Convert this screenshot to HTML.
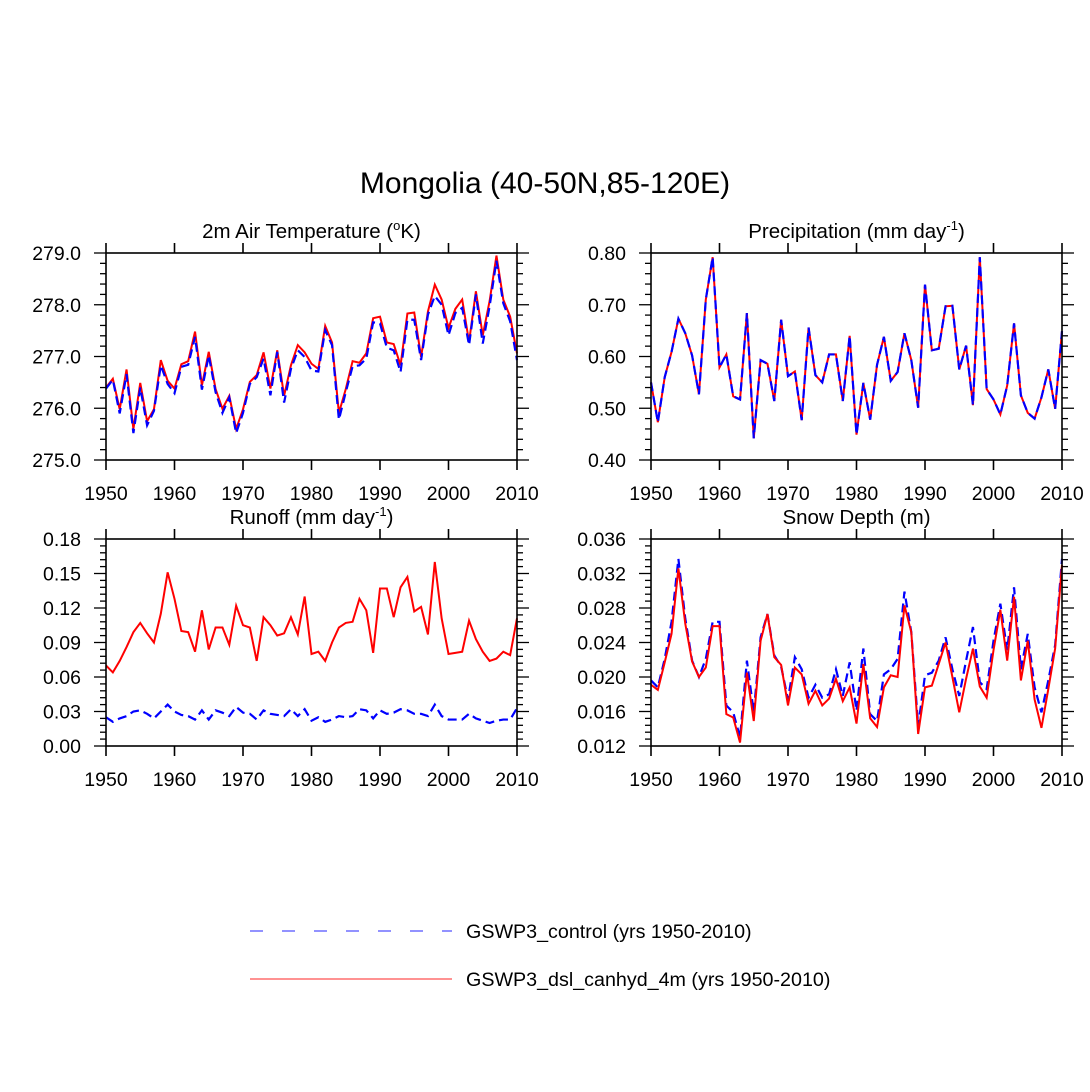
<!DOCTYPE html>
<html><head><meta charset="utf-8"><style>
body{margin:0;background:#fff}
svg{display:block;font-family:"Liberation Sans",Arial,sans-serif}
</style></head><body>
<svg id="chart" width="1090" height="1092" viewBox="0 0 1090 1092">
<rect width="1090" height="1092" fill="#fff"/>
<text x="545" y="193" font-size="30" text-anchor="middle">Mongolia (40-50N,85-120E)</text>
<g>
<line x1="250" y1="931" x2="452" y2="931" stroke="#6f6fff" stroke-width="1.5" stroke-dasharray="13,19"/>
<text x="466" y="938" font-size="19.7">GSWP3_control (yrs 1950-2010)</text>
<line x1="250" y1="979" x2="452" y2="979" stroke="#ff6f6f" stroke-width="1.5"/>
<text x="466" y="986" font-size="19.7">GSWP3_dsl_canhyd_4m (yrs 1950-2010)</text>
</g>
</svg>
<script>
const years = Array.from({length:61},(_, i)=>1950+i);
const xTicks = [1950,1960,1970,1980,1990,2000,2010];

const tempRed = [276.40,276.57,275.98,276.75,275.60,276.49,275.75,275.98,276.93,276.53,276.38,276.85,276.91,277.48,276.44,277.09,276.37,275.99,276.24,275.60,275.98,276.51,276.64,277.08,276.38,277.12,276.24,276.83,277.22,277.08,276.86,276.76,277.59,277.27,275.91,276.37,276.91,276.88,277.06,277.74,277.77,277.27,277.24,276.83,277.83,277.85,276.99,277.87,278.39,278.10,277.55,277.92,278.10,277.28,278.26,277.41,278.07,278.95,278.10,277.77,277.06];
const tempBlue = [276.38,276.55,275.90,276.66,275.52,276.40,275.67,275.95,276.83,276.47,276.29,276.80,276.84,277.38,276.36,277.02,276.31,275.91,276.21,275.52,275.91,276.47,276.60,276.96,276.25,277.09,276.11,276.76,277.12,276.99,276.73,276.71,277.51,277.22,275.78,276.31,276.81,276.83,276.96,277.66,277.64,277.17,277.12,276.70,277.71,277.71,276.93,277.81,278.17,278.00,277.41,277.84,277.94,277.22,278.20,277.25,277.97,278.85,278.03,277.68,276.93];
const precRed = [0.550,0.473,0.560,0.609,0.673,0.645,0.602,0.527,0.710,0.792,0.579,0.604,0.523,0.517,0.684,0.442,0.593,0.586,0.514,0.671,0.562,0.571,0.477,0.656,0.564,0.550,0.604,0.604,0.514,0.640,0.449,0.549,0.478,0.584,0.638,0.553,0.570,0.645,0.593,0.501,0.739,0.612,0.615,0.697,0.698,0.575,0.621,0.506,0.792,0.537,0.517,0.488,0.544,0.664,0.525,0.491,0.480,0.521,0.575,0.499,0.649];
const precBlue = precRed.slice();
const runRed = [0.070,0.064,0.074,0.086,0.099,0.107,0.098,0.090,0.115,0.151,0.128,0.100,0.099,0.082,0.118,0.084,0.103,0.103,0.088,0.122,0.105,0.103,0.074,0.112,0.105,0.096,0.098,0.112,0.097,0.130,0.080,0.082,0.074,0.090,0.103,0.107,0.108,0.128,0.118,0.081,0.137,0.137,0.112,0.138,0.147,0.117,0.121,0.097,0.160,0.111,0.080,0.081,0.082,0.109,0.093,0.082,0.074,0.076,0.082,0.079,0.111];
const runBlue = [0.025,0.021,0.024,0.026,0.030,0.031,0.028,0.024,0.030,0.036,0.030,0.027,0.026,0.023,0.031,0.023,0.031,0.029,0.026,0.034,0.029,0.028,0.023,0.031,0.028,0.027,0.026,0.032,0.026,0.032,0.022,0.025,0.021,0.023,0.026,0.025,0.026,0.032,0.031,0.024,0.031,0.028,0.029,0.032,0.031,0.028,0.028,0.026,0.036,0.026,0.023,0.023,0.023,0.028,0.024,0.022,0.020,0.022,0.023,0.023,0.033];
const snowRed = [0.0191,0.0185,0.0217,0.0250,0.0326,0.0262,0.0218,0.0200,0.0211,0.0259,0.0259,0.0157,0.0153,0.0124,0.0205,0.0149,0.0242,0.0273,0.0223,0.0214,0.0167,0.0211,0.0203,0.0169,0.0184,0.0167,0.0175,0.0198,0.0172,0.0188,0.0146,0.0215,0.0152,0.0142,0.0188,0.0202,0.0200,0.0283,0.0252,0.0134,0.0188,0.0190,0.0215,0.0240,0.0200,0.0159,0.0198,0.0233,0.0189,0.0176,0.0231,0.0278,0.0219,0.0293,0.0196,0.0242,0.0174,0.0141,0.0186,0.0233,0.0330];
const snowBlue = [0.0196,0.0188,0.0221,0.0264,0.0337,0.0268,0.0219,0.0200,0.0221,0.0264,0.0264,0.0167,0.0159,0.0130,0.0219,0.0159,0.0246,0.0273,0.0225,0.0212,0.0174,0.0223,0.0209,0.0176,0.0191,0.0176,0.0180,0.0209,0.0178,0.0217,0.0161,0.0233,0.0157,0.0149,0.0203,0.0209,0.0221,0.0299,0.0252,0.0143,0.0202,0.0205,0.0219,0.0246,0.0209,0.0178,0.0219,0.0258,0.0194,0.0186,0.0242,0.0285,0.0231,0.0304,0.0209,0.0250,0.0188,0.0159,0.0196,0.0237,0.0337];

const tempTicks = ["275.0","276.0","277.0","278.0","279.0"];
const precTicks = ["0.40","0.50","0.60","0.70","0.80"];
const runTicks = ["0.00","0.03","0.06","0.09","0.12","0.15","0.18"];
const snowTicks = ["0.012","0.016","0.020","0.024","0.028","0.032","0.036"];

const NS="http://www.w3.org/2000/svg";
const svg=document.getElementById('chart');
function mk(tag,attrs,parent){const e=document.createElementNS(NS,tag);for(const k in attrs)e.setAttribute(k,attrs[k]);(parent||svg).appendChild(e);return e;}

function panel(p){
  const g=mk('g',{});
  
  
  const L=p.x,R=p.x+411,T=p.y,B=p.y+207;
  const ymin=parseFloat(p.ticks[0]),ymax=parseFloat(p.ticks[p.ticks.length-1]);
  const xs=v=>L+(v-1950)/60*(R-L);
  const ys=v=>B-(v-ymin)/(ymax-ymin)*(B-T);
  const blue=mk('polyline',{points:p.blue.map((v,i)=>xs(years[i])+','+ys(v)).join(' '),fill:'none',stroke:'#0000ff','stroke-width':2.2,'stroke-dasharray':'9,5'},g);
  
  
  const red=mk('polyline',{points:p.red.map((v,i)=>xs(years[i])+','+ys(v)).join(' '),fill:'none',stroke:'#ff0000','stroke-width':2},g);
  
  
  if(p.redFirst){g.appendChild(blue);}
  const fr=mk('rect',{x:L,y:T,width:R-L,height:B-T,fill:'none',stroke:'#000','stroke-width':1.6},g);
  
  
  xTicks.forEach(t=>{
    const x=xs(t);
    mk('line',{x1:x,y1:B,x2:x,y2:B+10,stroke:'#000','stroke-width':1.6},g);
    mk('line',{x1:x,y1:T,x2:x,y2:T-10,stroke:'#000','stroke-width':1.6},g);
    const tx=mk('text',{x:x,y:B+40,'font-size':19.5,'text-anchor':'middle'},g);
    tx.textContent=t;
    
    
  });
  const n=p.ticks.length-1, minor=5;
  for(let i=0;i<=n*minor;i++){
    const y=B-i/(n*minor)*(B-T);
    const len=(i%minor===0)?12:6;
    mk('line',{x1:L,y1:y,x2:L-len,y2:y,stroke:'#000','stroke-width':1.3},g);
    mk('line',{x1:R,y1:y,x2:R+len,y2:y,stroke:'#000','stroke-width':1.3},g);
  }
  p.ticks.forEach((t,i)=>{
    const y=B-i/n*(B-T);
    const tx=mk('text',{x:L-25,y:y+7,'font-size':19.5,'text-anchor':'end'},g);
    tx.textContent=t;
    
    
  });
  const ti=mk('text',{x:(L+R)/2,y:T-15,'font-size':20.5,'text-anchor':'middle'},g);
  ti.innerHTML=p.title;
  
  
}
panel({name:'panel-air-temperature',x:106,y:253,ticks:tempTicks,red:tempRed,blue:tempBlue,redFirst:true,title:'2m Air Temperature (<tspan dy="-8" font-size="13">o</tspan><tspan dy="8">K)</tspan>'});
panel({name:'panel-precipitation',x:651,y:253,ticks:precTicks,red:precRed,blue:precBlue,redFirst:true,title:'Precipitation (mm day<tspan dy="-8" font-size="13">-1</tspan><tspan dy="8">)</tspan>'});
panel({name:'panel-runoff',x:106,y:539,ticks:runTicks,red:runRed,blue:runBlue,redFirst:false,title:'Runoff (mm day<tspan dy="-8" font-size="13">-1</tspan><tspan dy="8">)</tspan>'});
panel({name:'panel-snow-depth',x:651,y:539,ticks:snowTicks,red:snowRed,blue:snowBlue,redFirst:false,title:'Snow Depth (m)'});
</script>
</body></html>
